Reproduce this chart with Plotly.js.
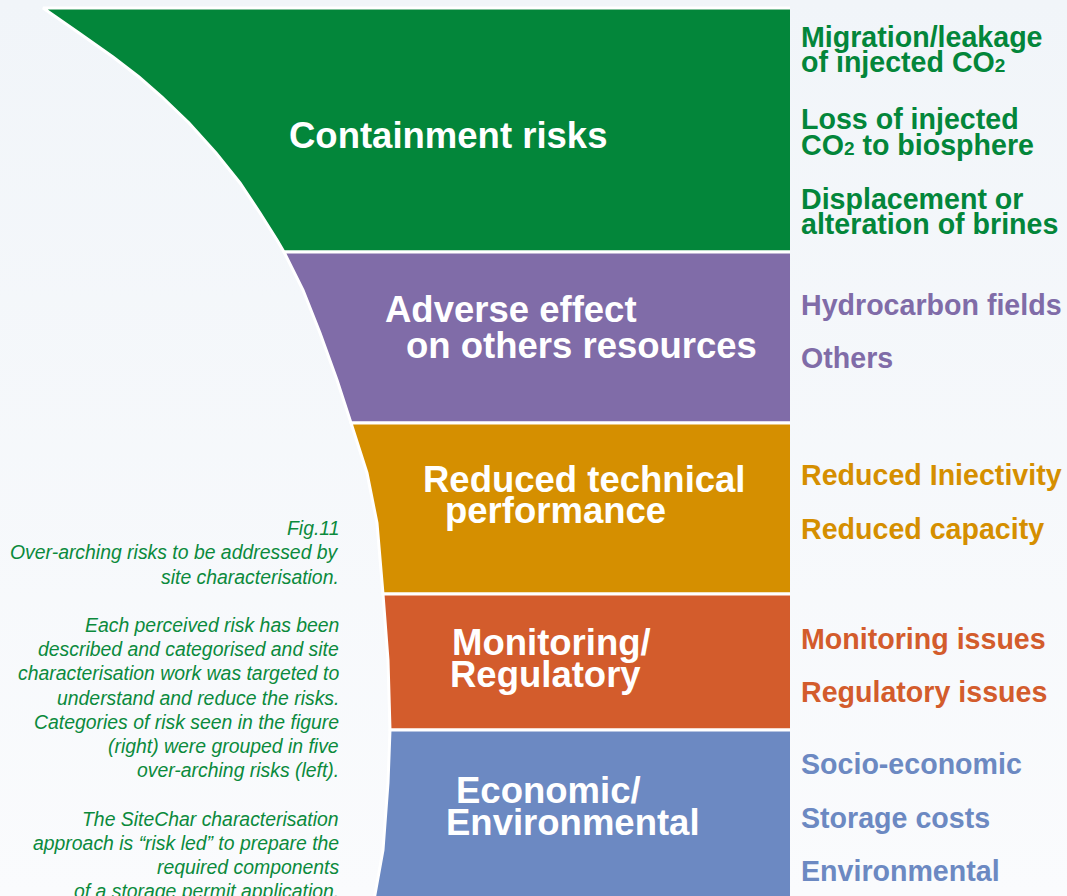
<!DOCTYPE html>
<html>
<head>
<meta charset="utf-8">
<script src="https://cdn.plot.ly/plotly-3.0.1.min.js"></script>
<style>
  html, body { margin: 0; padding: 0; }
  body { background: linear-gradient(#f1f5f9, #fafbfd); width: 1067px; height: 896px; overflow: hidden; }
</style>
</head>
<body>
<div id="chartDiv" style="width:1067px;height:896px;"></div>
<script>
// five over-arching risks, top to bottom
var riskNames = ['Containment risks', 'Adverse effect on others resources',
    'Reduced technical performance', 'Monitoring/ Regulatory', 'Economic/ Environmental'];
var riskColors = ['#03863a', '#806ca8', '#d58f00', '#d35c2c', '#6c89c2'];
var bandTop = [8, 252, 423, 594, 730];
var bandBottom = [252, 423, 594, 730, 900];
var bandRight = 790;

// curved left edge of the funnel (y down the page, x across)
var edgeY = [8, 33, 57, 77, 97, 123, 153, 183, 213, 240, 252, 290, 333, 380, 423, 473, 523, 594, 660, 730, 783, 850, 900];
var edgeX = [43, 79, 113, 139, 162, 189, 216, 240, 260, 277, 284, 303, 320, 337, 351, 367, 377, 383, 388, 390, 388, 383, 374];

// title lines inside each band
var titleLines = [
    ['Containment risks'],
    ['Adverse effect', 'on others resources'],
    ['Reduced technical', 'performance'],
    ['Monitoring/', 'Regulatory'],
    ['Economic/', 'Environmental']
];
var titleX = [[287], [383, 404], [421, 443], [450, 448], [454, 444]];
var titleY = [[135.5], [309.8, 345.2], [479.2, 510.2], [642.5, 674.5], [790.8, 822.5]];

// detailed risk categories on the right
var sub2 = '<span style="font-size:19px">2</span>';
var detailLines = [
    ['Migration/leakage', 'of injected CO' + sub2, 'Loss of injected', 'CO' + sub2 + ' to biosphere',
     'Displacement or', 'alteration of brines'],
    ['Hydrocarbon fields', 'Others'],
    ['Reduced Iniectivity', 'Reduced capacity'],
    ['Monitoring issues', 'Regulatory issues'],
    ['Socio-economic', 'Storage costs', 'Environmental']
];
var detailY = [
    [37, 62, 118.6, 145.3, 198.6, 223.6],
    [305, 358],
    [475.3, 528.6],
    [638.6, 692],
    [763.6, 817.6, 871]
];

var captionLines = ['Fig.11', 'Over-arching risks to be addressed by', 'site characterisation.', '',
    'Each perceived risk has been', 'described and categorised and site',
    'characterisation work was targeted to', 'understand and reduce the risks.',
    'Categories of risk seen in the figure', '(right) were grouped in five',
    'over-arching risks (left).', '',
    'The SiteChar characterisation', 'approach is \u201crisk led\u201d to prepare the',
    'required components', 'of a storage permit application.'];
var captionTop = 528.2, captionStep = 24.2;

var data = [];
var annotations = [];
var font = 'Liberation Sans, Arial, sans-serif';

for (var b = 0; b < riskNames.length; b++) {
    var xs = [bandRight], ys = [bandTop[b]];
    for (var i = 0; i < edgeY.length; i++) {
        if (edgeY[i] >= bandTop[b] && edgeY[i] <= bandBottom[b]) {
            xs.push(edgeX[i]);
            ys.push(edgeY[i]);
        }
    }
    xs.push(bandRight);
    ys.push(bandBottom[b]);
    data.push({
        x: xs, y: ys,
        type: 'scatter', mode: 'lines',
        fill: 'toself', fillcolor: riskColors[b],
        line: {color: '#ffffff', width: 3},
        hoverinfo: 'skip', name: riskNames[b]
    });

    for (var j = 0; j < titleLines[b].length; j++) {
        annotations.push({
            x: titleX[b][j], y: titleY[b][j], xref: 'x', yref: 'y',
            text: '<b>' + titleLines[b][j] + '</b>', showarrow: false,
            xanchor: 'left', yanchor: 'middle',
            font: {family: font, size: 36.5, color: '#ffffff'}
        });
    }
    for (var k = 0; k < detailLines[b].length; k++) {
        annotations.push({
            x: 799, y: detailY[b][k], xref: 'x', yref: 'y',
            text: '<b>' + detailLines[b][k] + '</b>', showarrow: false,
            xanchor: 'left', yanchor: 'middle',
            font: {family: font, size: 28.6, color: riskColors[b]}
        });
    }
}

for (var c = 0; c < captionLines.length; c++) {
    if (captionLines[c] === '') continue;
    annotations.push({
        x: 341, y: captionTop + c * captionStep, xref: 'x', yref: 'y',
        text: '<i>' + captionLines[c] + '</i>', showarrow: false,
        xanchor: 'right', yanchor: 'middle',
        font: {family: font, size: 19.4, color: '#0b8a3c'}
    });
}

var layout = {
    width: 1067, height: 896,
    margin: {l: 0, r: 0, t: 0, b: 0},
    paper_bgcolor: 'rgba(0,0,0,0)',
    plot_bgcolor: 'rgba(0,0,0,0)',
    showlegend: false,
    xaxis: {range: [0, 1067], visible: false, fixedrange: true},
    yaxis: {range: [896, 0], visible: false, fixedrange: true},
    annotations: annotations
};

Plotly.newPlot('chartDiv', data, layout, {staticPlot: true});
</script>
</body>
</html>
